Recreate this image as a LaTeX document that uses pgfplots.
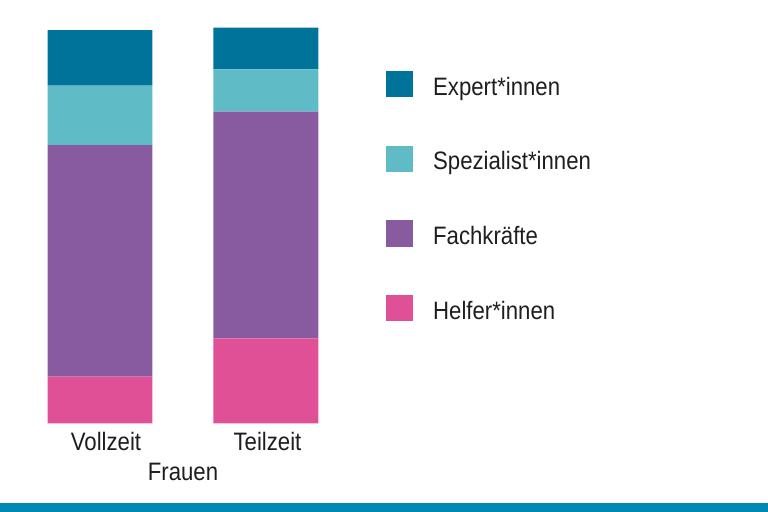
\documentclass[border=0pt]{standalone}
\usepackage{pgfplots}
\pgfplotsset{compat=1.18}
\usepackage{fontspec}
\setmainfont{Liberation Sans}[FakeStretch=0.88]
\definecolor{cExpert}{HTML}{00739A}
\definecolor{cSpez}{HTML}{5FBBC6}
\definecolor{cFach}{HTML}{885A9F}
\definecolor{cHelfer}{HTML}{E05096}
\definecolor{cBottom}{HTML}{0088B4}
\definecolor{txt}{HTML}{1E1E1E}
\begin{document}
\fontsize{12.6bp}{15bp}\selectfont
\begin{tikzpicture}
\useasboundingbox (0,0) rectangle (384bp,-256bp);
\begin{axis}[
  at={(0,-211.65bp)}, anchor=south west,
  scale only axis, width=170bp, height=197bp,
  xmin=0, xmax=340, ymin=0, ymax=100,
  hide axis, clip=false,
  ybar stacked, bar width=105,
  reverse legend,
  legend image code/.code={\fill[#1] (0bp,-6.6bp) rectangle (13.6bp,6.6bp);},
  legend style={draw=none, fill=none, inner sep=0pt, outer sep=0pt,
    at={(1.1353,0.8942)}, anchor=north west,
    row sep=24.15bp, column sep=10bp, text=txt,
    font=\fontsize{12.6bp}{15bp}\selectfont,
    cells={anchor=west},
    nodes={inner sep=0pt, text height=11bp, text depth=0pt}},
]
\addplot[fill=cHelfer, draw=none] coordinates {(100,11.83) (265.8,21.57)};
\addlegendentry{Helfer*innen}
\addplot[fill=cFach, draw=none] coordinates {(100,58.80) (265.8,57.52)};
\addlegendentry{Fachkräfte}
\addplot[fill=cSpez, draw=none] coordinates {(100,15.06) (265.8,10.76)};
\addlegendentry{Spezialist*innen}
\addplot[fill=cExpert, draw=none] coordinates {(100,14.13) (265.8,10.56)};
\addlegendentry{Expert*innen}
\end{axis}
\node[anchor=base, text=txt, inner sep=0pt] at (53bp,-225.35bp) {Vollzeit};
\node[anchor=base, text=txt, inner sep=0pt] at (133.75bp,-225.35bp) {Teilzeit};
\node[anchor=base, text=txt, inner sep=0pt] at (91.5bp,-240bp) {Frauen};
\fill[cBottom] (0,-251.35bp) rectangle (384bp,-256bp);
\end{tikzpicture}
\end{document}
